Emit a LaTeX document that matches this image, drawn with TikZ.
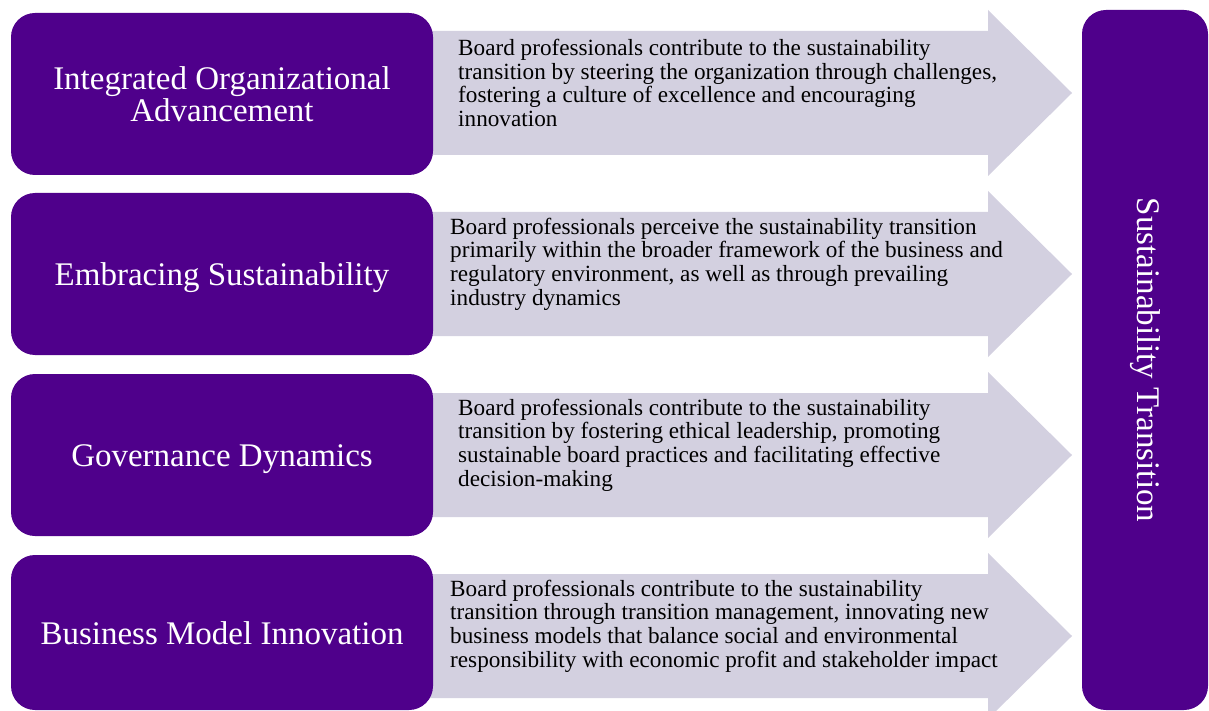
\documentclass[tikz,border=0pt]{standalone}
\usepackage{fontspec}
\setmainfont{Liberation Serif}

\definecolor{boardpurple}{RGB}{79,0,139}
\definecolor{arrowgray}{RGB}{211,208,224}

\begin{document}
\begin{tikzpicture}[x=1pt, y=-1pt,
  theme/.style={fill=boardpurple, text=white, rounded corners=24pt,
    minimum width=422pt, minimum height=162pt, inner sep=0pt,
    align=center, font=\fontsize{33}{32}\selectfont},
  oneline/.style={text height=30pt, text depth=7pt},
  finding/.style={anchor=west, align=left, inner sep=0pt,
    font=\fontsize{23.2}{23.6}\selectfont}]
  \useasboundingbox (0,0) rectangle (1209,711);

  % Arrows (drawn first, they start under the boxes)
  \fill[arrowgray] (420,31) -- ++(568,0) -- ++(0,-21) -- ++(84,83)
    -- ++(-84,83) -- ++(0,-21) -- ++(-568,0) -- cycle;
  \fill[arrowgray] (420,212) -- ++(568,0) -- ++(0,-21) -- ++(84,83)
    -- ++(-84,83) -- ++(0,-21) -- ++(-568,0) -- cycle;
  \fill[arrowgray] (420,393) -- ++(568,0) -- ++(0,-21) -- ++(84,83)
    -- ++(-84,83) -- ++(0,-21) -- ++(-568,0) -- cycle;
  \fill[arrowgray] (420,574) -- ++(568,0) -- ++(0,-21) -- ++(84,83)
    -- ++(-84,83) -- ++(0,-21) -- ++(-568,0) -- cycle;

  % Themes
  \node[theme] (integrated) at (222,94) {Integrated Organizational\\Advancement};
  \node[theme, oneline] (embracing) at (222,274) {Embracing Sustainability};
  \node[theme, oneline] (governance) at (222,455) {Governance Dynamics};
  \node[theme, oneline, minimum height=155pt] (business) at (222,632.5) {Business Model Innovation};

  % Findings on the arrows
  \node[finding] (integratedText) at (458,83)
    {Board professionals contribute to the sustainability\\
     transition by steering the organization through challenges,\\
     fostering a culture of excellence and encouraging\\
     innovation};
  \node[finding] (embracingText) at (450,264)
    {Board professionals perceive the sustainability transition\\
     primarily within the broader framework of the business and\\
     regulatory environment, as well as through prevailing\\
     industry dynamics};
  \node[finding] (governanceText) at (458,445)
    {Board professionals contribute to the sustainability\\
     transition by fostering ethical leadership, promoting\\
     sustainable board practices and facilitating effective\\
     decision-making};
  \node[finding] (businessText) at (450,626)
    {Board professionals contribute to the sustainability\\
     transition through transition management, innovating new\\
     business models that balance social and environmental\\
     responsibility with economic profit and stakeholder impact};

  % Outcome
  \node[theme, rotate=-90, minimum width=700pt, minimum height=126pt]
    (transition) at (1145,360) {Sustainability Transition};
\end{tikzpicture}
\end{document}
